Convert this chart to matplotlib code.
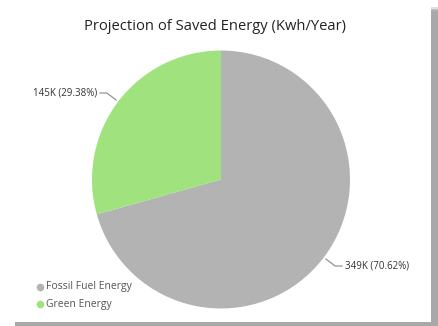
import matplotlib.pyplot as plt
import numpy as np
from matplotlib.patches import Rectangle

labels = ["Fossil Fuel Energy", "Green Energy"]
values = [349, 145]
value_text = ["349K", "145K"]
pct_text = ["70.62%", "29.38%"]
colors = ["#B3B3B3", "#A0E27E"]

W, H = 438, 326
fig = plt.figure(figsize=(W / 100, H / 100), dpi=100)
fig.patch.set_facecolor("white")
ax = fig.add_axes([0, 0, 1, 1])
ax.set_xlim(0, W)
ax.set_ylim(0, H)
ax.axis("off")

# card shadow on the right and bottom
for i, a in enumerate([0.35, 0.55, 0.75, 0.9]):
    ax.add_patch(Rectangle((431, 0), 7, H - 7 - i * 1.5, color="#A8A8A8", alpha=a, lw=0, zorder=0))
ax.add_patch(Rectangle((15, 0), W - 15, 4, color="#A8A8A8", lw=0, zorder=0))
ax.add_patch(Rectangle((0, 4), 431, H - 4, color="white", lw=0, zorder=0.5))

cx, cy, R = 221, H - 179.5, 129
wedges, _ = ax.pie(values, colors=colors, startangle=90, counterclock=False,
                   center=(cx, cy), radius=R, frame=True,
                   wedgeprops=dict(linewidth=0))
ax.set_xlim(0, W)
ax.set_ylim(0, H)
ax.set_aspect("equal")
ax.axis("off")

font = "Open Sans"
for w, vt, pt in zip(wedges, value_text, pct_text):
    ang = np.deg2rad((w.theta1 + w.theta2) / 2)
    x0, y0 = cx + 1.02 * R * np.cos(ang), cy + 1.02 * R * np.sin(ang)
    x1, y1 = cx + 1.11 * R * np.cos(ang), cy + 1.11 * R * np.sin(ang)
    side = 1 if np.cos(ang) > 0 else -1
    x2 = x1 + side * 7
    ax.plot([x0, x1, x2], [y0, y1, y1], color="#888888", lw=0.8, zorder=3)
    ax.text(x2 + side * 3, y1, f"{vt} ({pt})", ha="left" if side > 0 else "right",
            va="center", fontsize=7, color="#333333", family=font)

ax.text(215, H - 27, "Projection of Saved Energy (Kwh/Year)", ha="center", va="center",
        fontsize=10.6, color="#222222", family=font)

for i, (lab, c) in enumerate(zip(labels, colors)):
    y = H - 287 - i * 17
    ax.plot(40, y, "o", color=c, markersize=4.5, zorder=3)
    ax.text(46, y, lab, ha="left", va="center", fontsize=7.5, color="#555555", family=font)

fig.savefig("out.png", dpi=100)
